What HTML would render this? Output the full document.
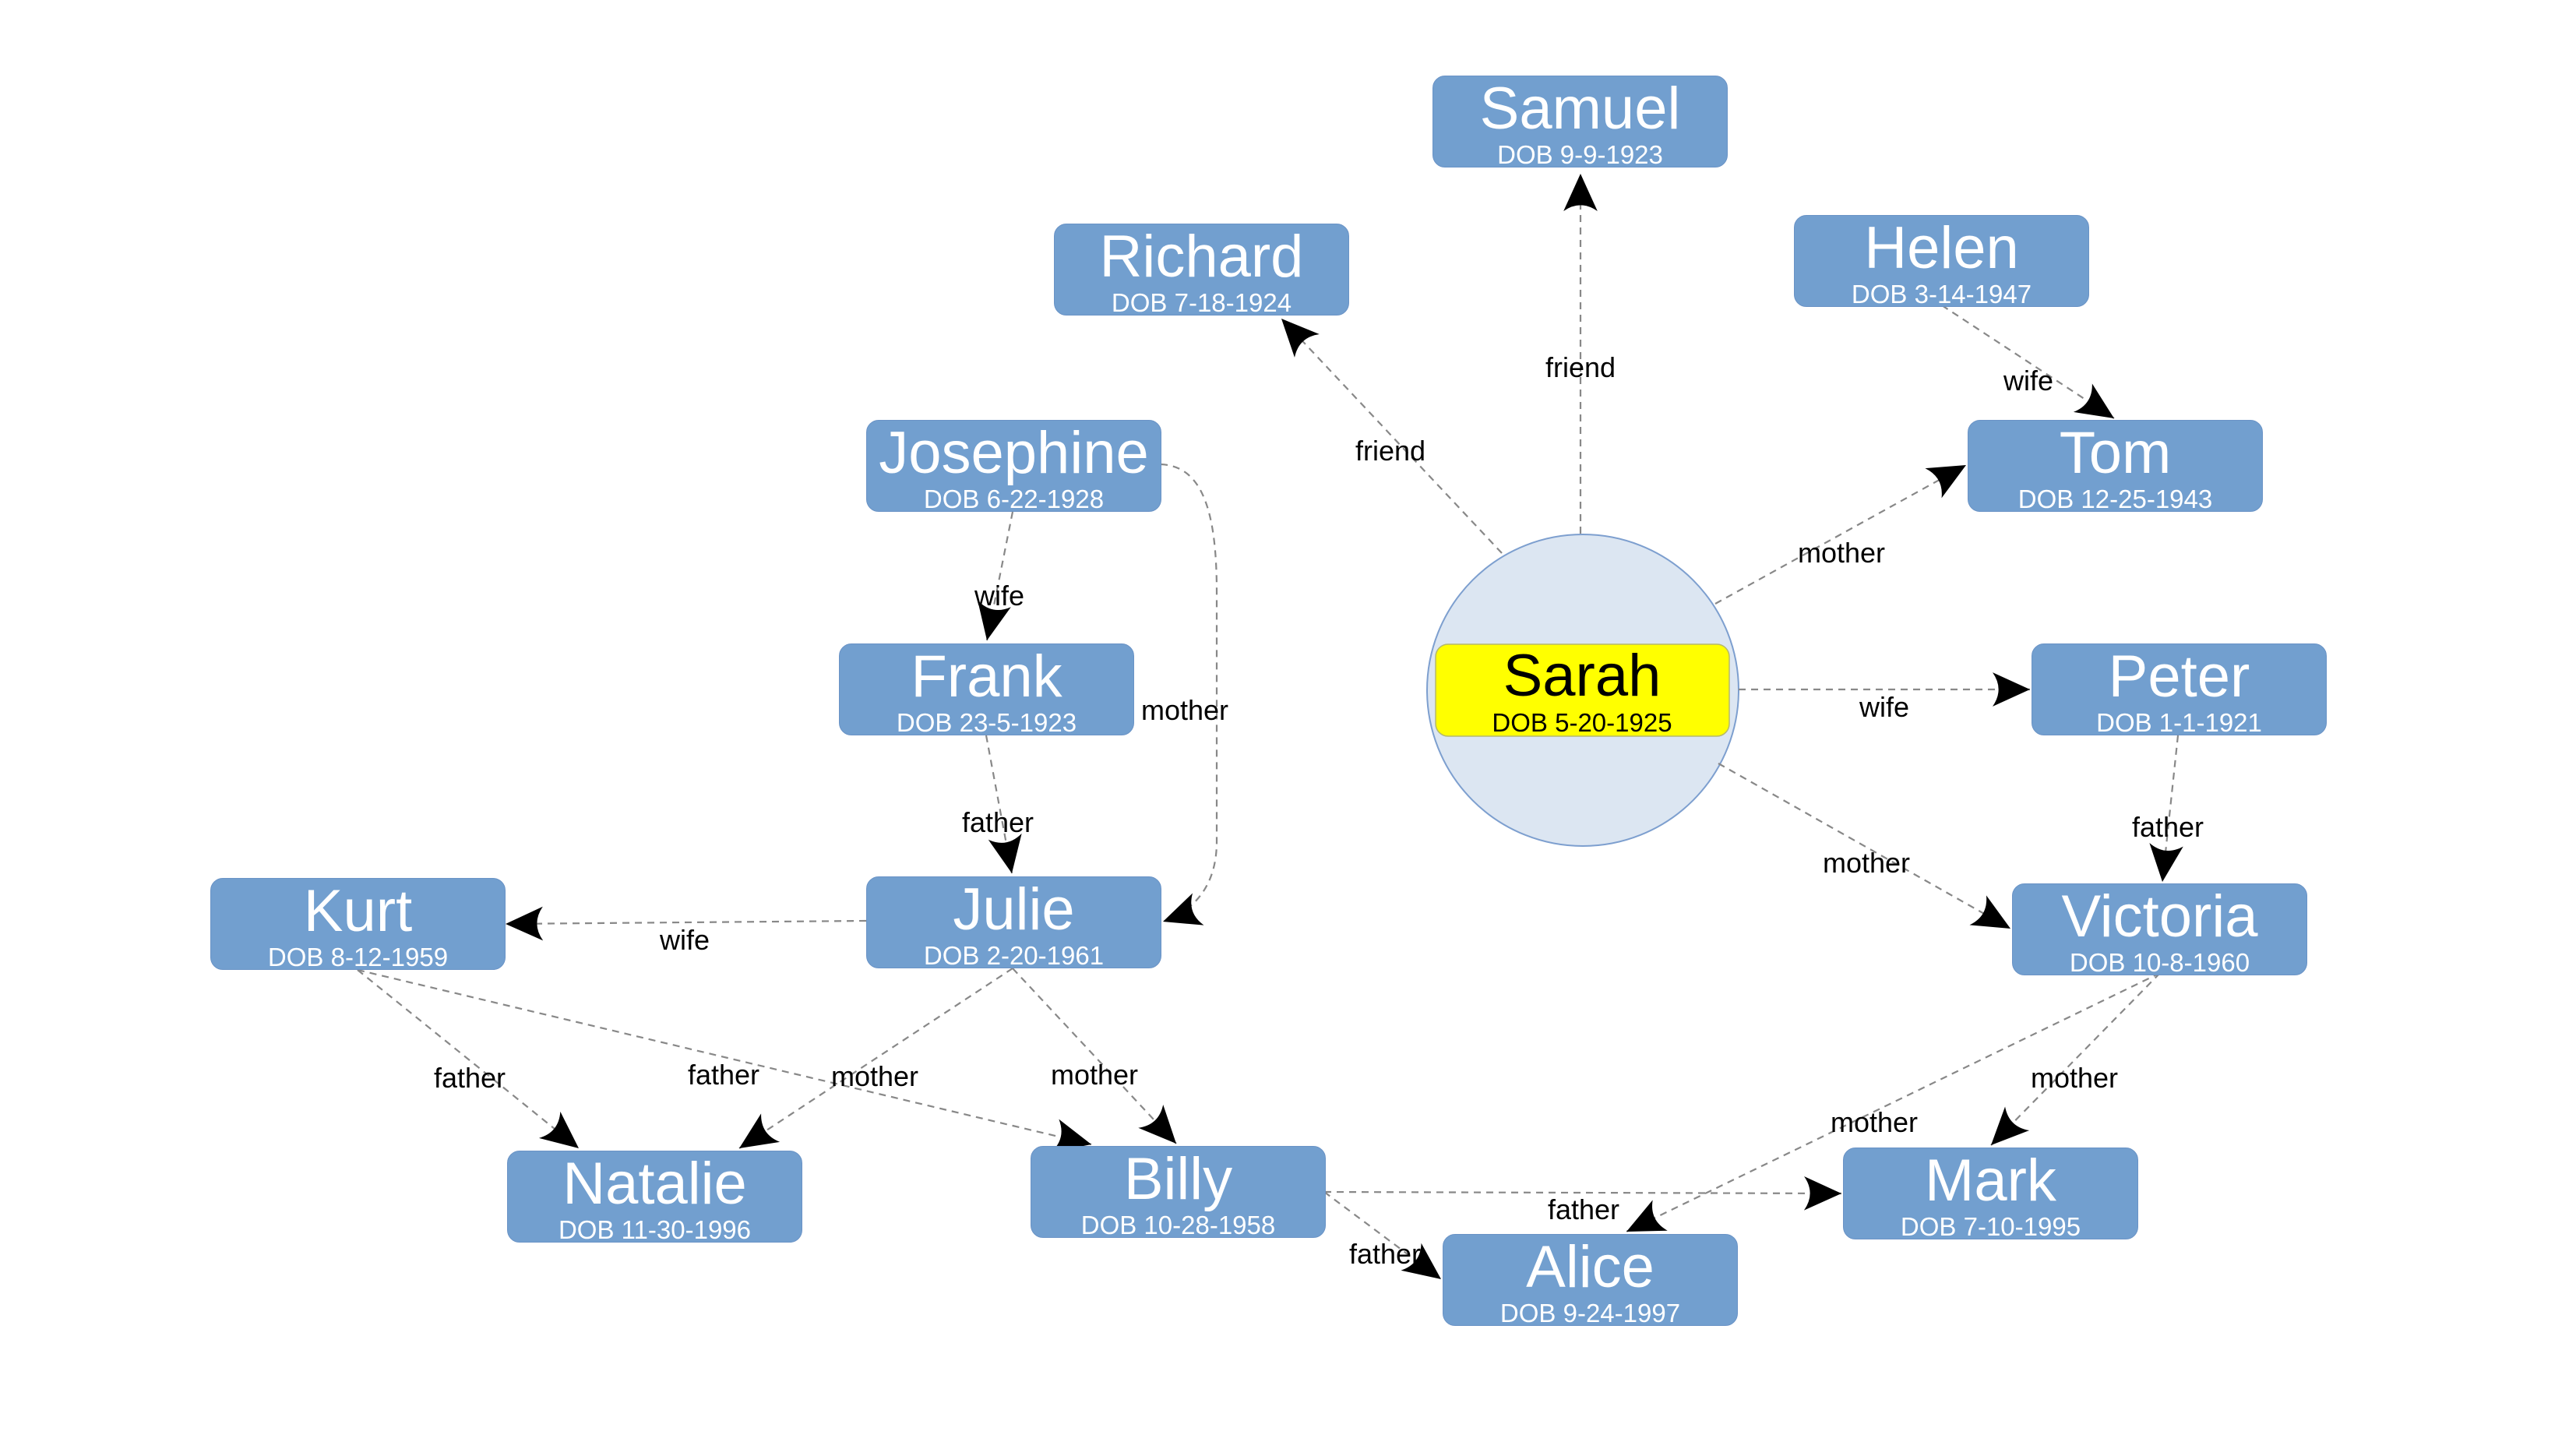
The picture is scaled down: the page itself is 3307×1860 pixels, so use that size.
<!DOCTYPE html>
<html><head><meta charset="utf-8"><style>
html,body{margin:0;padding:0;background:#fff;}
body{width:3307px;height:1860px;position:relative;overflow:hidden;font-family:"Liberation Sans",Arial,sans-serif;}
svg{position:absolute;left:0;top:0;}
.n{position:absolute;width:377px;height:116px;background:#729fcf;border:1.5px solid #6a93c6;border-radius:16px;color:#fff;text-align:center;box-sizing:content-box;}
.n .a{position:absolute;left:0;right:0;top:4px;font-size:76px;line-height:76px;}
.n .b{position:absolute;left:0;right:0;top:84px;font-size:33px;line-height:33px;}
.l{position:absolute;font-size:36px;color:#000;transform:translate(-50%,-50%);white-space:nowrap;line-height:38px;}
</style></head><body>
<svg width="3307" height="1860" viewBox="0 0 3307 1860">
<defs>
<marker id="ar" markerUnits="userSpaceOnUse" markerWidth="60" markerHeight="60" refX="0" refY="0" viewBox="-50 -25 55 50" orient="auto">
<path d="M0,0 L-44,-20 Q-30,0 -44,20 Z" fill="#000"/>
</marker>
</defs>
<circle cx="2032" cy="886" r="200" fill="#dce6f2" stroke="#7d9fcf" stroke-width="2"/>
<g stroke="#888" stroke-width="2.2" stroke-dasharray="9 7" fill="none" marker-end="url(#ar)">
<line x1="2029" y1="685" x2="2029" y2="223"/>
<line x1="1928" y1="710" x2="1645" y2="409"/>
<line x1="2493" y1="392" x2="2714" y2="537"/>
<line x1="2202" y1="775" x2="2524" y2="597"/>
<line x1="2232" y1="885" x2="2606" y2="885"/>
<line x1="2796" y1="944" x2="2776" y2="1132"/>
<line x1="2206" y1="980" x2="2581" y2="1192"/>
<line x1="1300" y1="657" x2="1267" y2="822"/>
<path d="M1490,596 C1545,598 1562,660 1562,760 L1562,1080 C1562,1140 1530,1170 1493,1183"/>
<line x1="1266" y1="944" x2="1299" y2="1121"/>
<line x1="1112" y1="1182" x2="649" y2="1186"/>
<line x1="459" y1="1245" x2="743" y2="1474"/>
<line x1="459" y1="1245" x2="1401" y2="1469"/>
<line x1="1300" y1="1243" x2="949" y2="1474"/>
<line x1="1300" y1="1243" x2="1510" y2="1468"/>
<line x1="1700" y1="1530" x2="2364" y2="1532"/>
<line x1="1700" y1="1530" x2="1850" y2="1642"/>
<line x1="2773" y1="1249" x2="2088" y2="1581"/>
<line x1="2773" y1="1249" x2="2556" y2="1470"/>
</g>
<rect x="1843" y="827" width="377" height="118" rx="16" fill="#ffff00" stroke="#b5b86a" stroke-width="1.5"/>
<text x="2031" y="893" font-size="76" text-anchor="middle" font-family="Liberation Sans,Arial,sans-serif">Sarah</text>
<text x="2031" y="939" font-size="33" text-anchor="middle" font-family="Liberation Sans,Arial,sans-serif">DOB 5-20-1925</text>
</svg>
<div class="n" style="left:1839px;top:97px"><div class="a">Samuel</div><div class="b">DOB 9-9-1923</div></div>
<div class="n" style="left:1353px;top:287px"><div class="a">Richard</div><div class="b">DOB 7-18-1924</div></div>
<div class="n" style="left:2303px;top:276px"><div class="a">Helen</div><div class="b">DOB 3-14-1947</div></div>
<div class="n" style="left:1112px;top:539px"><div class="a">Josephine</div><div class="b">DOB 6-22-1928</div></div>
<div class="n" style="left:2526px;top:539px"><div class="a">Tom</div><div class="b">DOB 12-25-1943</div></div>
<div class="n" style="left:1077px;top:826px"><div class="a">Frank</div><div class="b">DOB 23-5-1923</div></div>
<div class="n" style="left:2608px;top:826px"><div class="a">Peter</div><div class="b">DOB 1-1-1921</div></div>
<div class="n" style="left:270px;top:1127px"><div class="a">Kurt</div><div class="b">DOB 8-12-1959</div></div>
<div class="n" style="left:1112px;top:1125px"><div class="a">Julie</div><div class="b">DOB 2-20-1961</div></div>
<div class="n" style="left:2583px;top:1134px"><div class="a">Victoria</div><div class="b">DOB 10-8-1960</div></div>
<div class="n" style="left:651px;top:1477px"><div class="a">Natalie</div><div class="b">DOB 11-30-1996</div></div>
<div class="n" style="left:1323px;top:1471px"><div class="a">Billy</div><div class="b">DOB 10-28-1958</div></div>
<div class="n" style="left:2366px;top:1473px"><div class="a">Mark</div><div class="b">DOB 7-10-1995</div></div>
<div class="n" style="left:1852px;top:1584px"><div class="a">Alice</div><div class="b">DOB 9-24-1997</div></div>
<div class="l" style="left:2029px;top:472px">friend</div>
<div class="l" style="left:1785px;top:579px">friend</div>
<div class="l" style="left:2604px;top:489px">wife</div>
<div class="l" style="left:2364px;top:710px">mother</div>
<div class="l" style="left:2419px;top:908px">wife</div>
<div class="l" style="left:2783px;top:1062px">father</div>
<div class="l" style="left:2396px;top:1108px">mother</div>
<div class="l" style="left:1283px;top:765px">wife</div>
<div class="l" style="left:1521px;top:912px">mother</div>
<div class="l" style="left:1281px;top:1056px">father</div>
<div class="l" style="left:879px;top:1207px">wife</div>
<div class="l" style="left:603px;top:1384px">father</div>
<div class="l" style="left:929px;top:1380px">father</div>
<div class="l" style="left:1123px;top:1382px">mother</div>
<div class="l" style="left:1405px;top:1380px">mother</div>
<div class="l" style="left:2033px;top:1553px">father</div>
<div class="l" style="left:1778px;top:1610px">father</div>
<div class="l" style="left:2406px;top:1441px">mother</div>
<div class="l" style="left:2663px;top:1384px">mother</div>
</body></html>
